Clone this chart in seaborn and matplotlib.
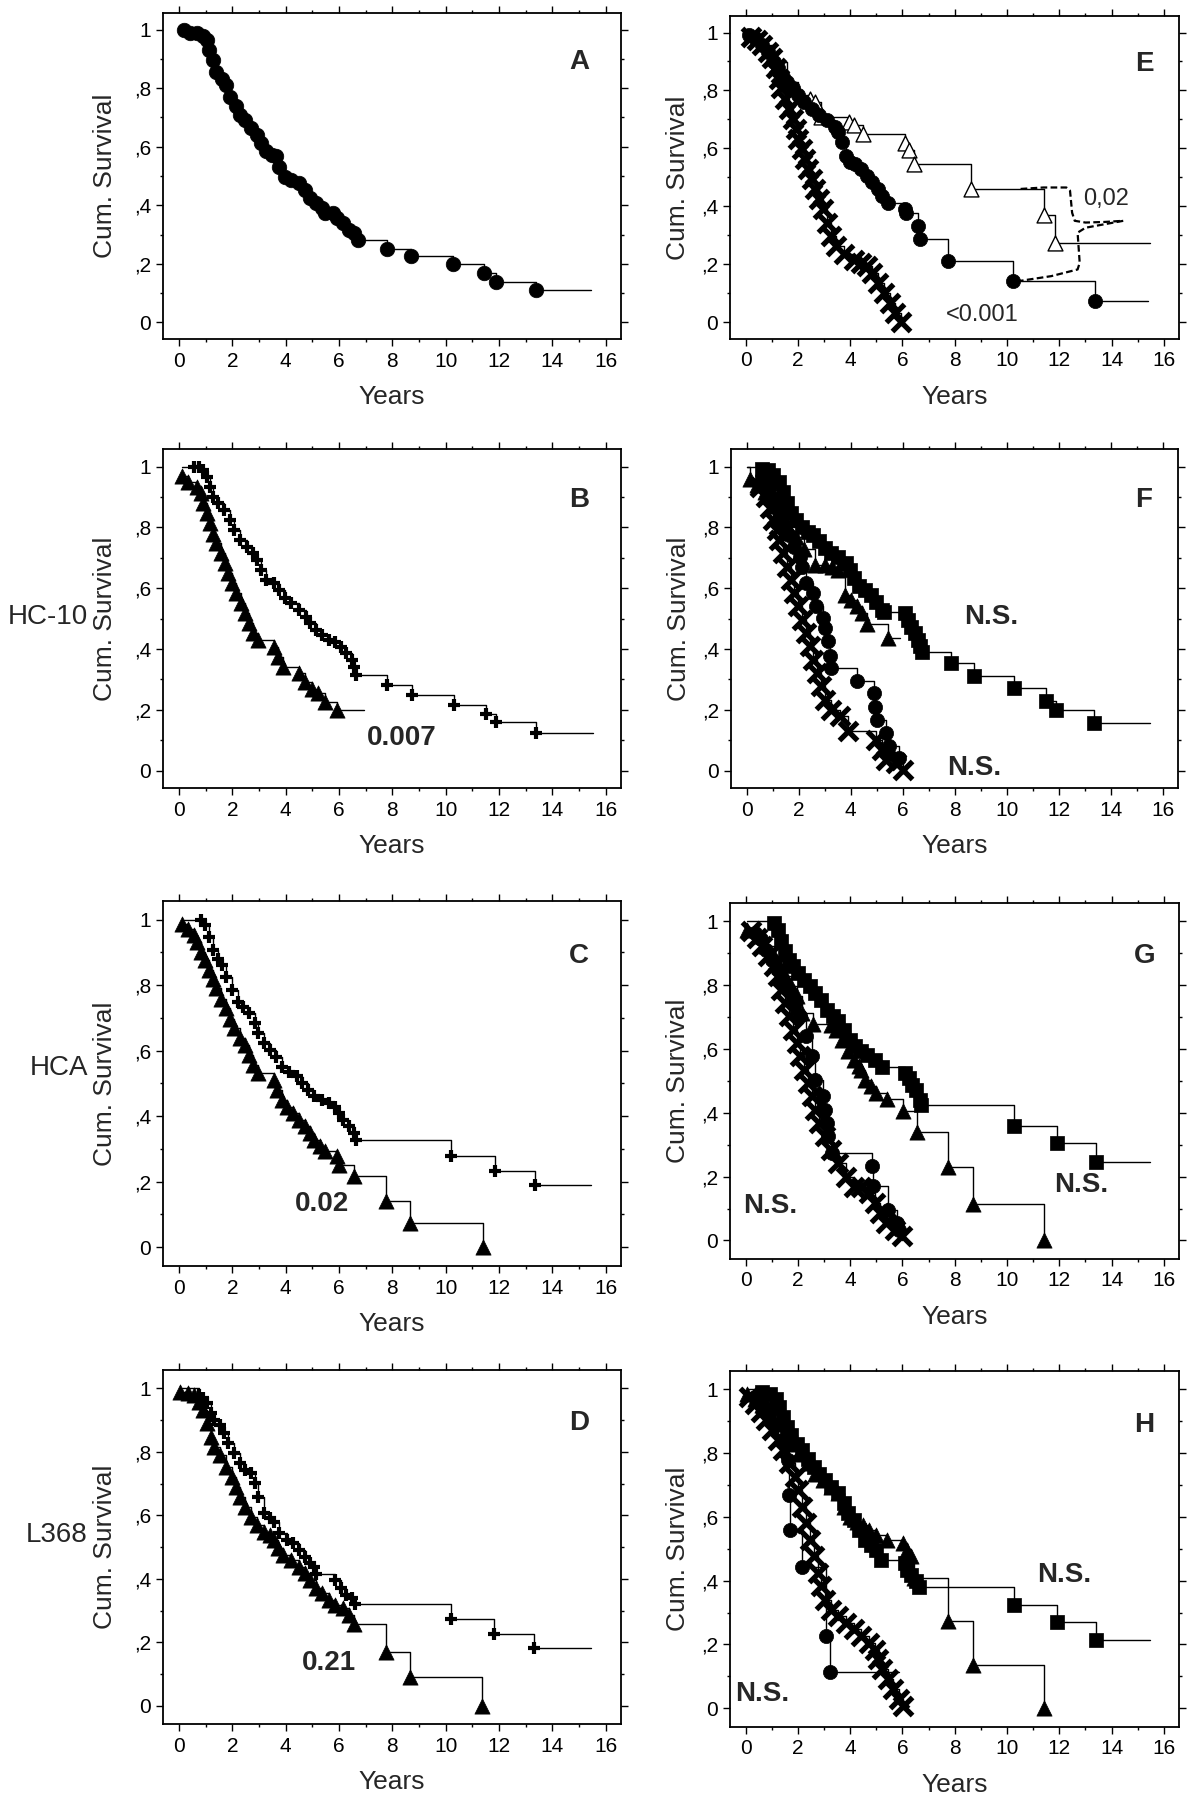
import numpy as np
import pandas as pd
import matplotlib
matplotlib.use('Agg')
import matplotlib.pyplot as plt
from matplotlib.transforms import offset_copy
import seaborn as sns

# ---------------------------------------------------------------------------
# Curve data (time in years, cumulative survival)
# ---------------------------------------------------------------------------

# A : all patients
a_circ_t = [0.19, 0.4, 0.69, 0.9, 1.05, 1.12, 1.26, 1.4, 1.62, 1.76, 1.9, 2.12,
            2.27, 2.48, 2.7, 2.91, 3.06, 3.27, 3.49, 3.63, 3.77, 3.99, 4.2, 4.49,
            4.71, 4.92, 5.14, 5.35, 5.49, 5.78, 5.92, 6.14, 6.36, 6.57, 6.71,
            7.82, 8.69, 10.27, 11.45, 11.9, 13.39]
a_circ_s = [1.0, .99, .99, .977, .966, .93, .897, .857, .83, .81, .77, .738,
            .71, .69, .664, .64, .612, .584, .572, .567, .532, .498, .487, .476,
            .453, .424, .407, .39, .373, .373, .356, .339, .316, .304, .28,
            .25, .227, .198, .17, .139, .111]

# B : HC-10
b_plus_t = [0.55, 0.76, 0.9, 1.05, 1.16, 1.26, 1.48, 1.69, 1.91, 2.05, 2.27,
            2.55, 2.77, 2.91, 3.06, 3.27, 3.56, 3.77, 3.99, 4.2, 4.49, 4.78,
            4.92, 5.14, 5.35, 5.64, 5.85, 6.07, 6.28, 6.5, 6.57, 6.64, 7.8,
            8.75, 10.3, 11.5, 11.9, 13.4]
b_plus_s = [1.0, 1.0, .99, .967, .934, .9, .879, .857, .825, .79, .759, .737,
            .715, .693, .66, .627, .616, .594, .567, .55, .528, .507, .485,
            .463, .446, .43, .424, .408, .386, .364, .342, .315, .282, .249,
            .216, .186, .159, .123]
b_tri_t = [0.11, 0.33, 0.69, 0.83, 0.9, 1.05, 1.16, 1.26, 1.4, 1.59, 1.73,
           1.84, 1.98, 2.12, 2.31, 2.48, 2.63, 2.77, 2.98, 3.56, 3.7, 3.92,
           4.49, 4.71, 4.99, 5.21, 5.47, 5.93]
b_tri_s = [.97, .95, .934, .912, .88, .846, .814, .78, .748, .715, .682, .649,
           .616, .583, .55, .518, .485, .452, .43, .408, .375, .342, .32, .293,
           .27, .254, .227, .2]

# C : HCA
c_plus_t = [0.83, 0.98, 1.12, 1.26, 1.48, 1.62, 1.76, 1.98, 2.2, 2.41, 2.63,
            2.84, 2.98, 3.2, 3.41, 3.63, 3.85, 4.13, 4.42, 4.63, 4.85, 5.06,
            5.35, 5.64, 5.85, 6.0, 6.14, 6.36, 6.57, 6.64, 10.2, 11.85, 13.35]
c_plus_s = [1.0, .983, .947, .907, .881, .861, .825, .785, .749, .734, .714,
            .683, .653, .622, .602, .582, .551, .536, .521, .5, .48, .46, .45,
            .44, .429, .409, .389, .369, .348, .328, .279, .231, .188]
c_tri_t = [0.11, 0.33, 0.55, 0.69, 0.83, 0.98, 1.12, 1.26, 1.4, 1.59, 1.76,
           1.91, 2.08, 2.27, 2.48, 2.63, 2.77, 2.98, 3.56, 3.66, 3.85, 4.06,
           4.28, 4.49, 4.71, 4.92, 5.06, 5.28, 5.47, 5.93, 6.0, 6.57, 7.76,
           8.65, 11.4]
c_tri_s = [.988, .973, .952, .932, .902, .876, .846, .82, .79, .759, .729,
           .698, .668, .638, .617, .587, .556, .531, .511, .48, .45, .429, .409,
           .389, .369, .348, .328, .308, .292, .277, .252, .216, .14, .072, 0.0]

# D : L368
d_plus_t = [0.76, 0.9, 1.05, 1.19, 1.33, 1.55, 1.69, 1.84, 2.05, 2.27, 2.48,
            2.7, 2.84, 2.98, 3.2, 3.41, 3.56, 3.77, 4.06, 4.28, 4.49, 4.71,
            4.92, 5.06, 5.14, 5.85, 6.07, 6.28, 6.5, 6.6, 10.2, 11.8, 13.3]
d_plus_s = [.979, .969, .953, .921, .9, .885, .858, .827, .795, .764, .743,
            .732, .701, .659, .607, .591, .58, .544, .523, .512, .491, .47,
            .449, .439, .415, .397, .37, .349, .339, .32, .273, .227, .181]
d_tri_t = [0.04, 0.33, 0.55, 0.76, 0.9, 1.05, 1.19, 1.33, 1.55, 1.76, 1.98,
           2.12, 2.27, 2.48, 2.7, 2.91, 3.2, 3.41, 3.56, 3.7, 3.92, 4.2, 4.49,
           4.71, 4.92, 5.14, 5.35, 5.64, 5.85, 6.14, 6.36, 6.57, 7.76, 8.65,
           11.37]
d_tri_s = [.99, .984, .979, .958, .932, .89, .848, .816, .79, .753, .722, .69,
           .659, .627, .596, .57, .549, .538, .523, .496, .475, .46, .439, .418,
           .397, .37, .355, .334, .318, .307, .286, .258, .17, .09, 0.0]

# E : HLA class I groups
e_circ_t = [.13, .35, .64, .86, 1.08, 1.22, 1.44, 1.58, 1.8, 2.02, 2.24, 2.53,
            2.82, 3.11, 3.4, 3.55, 3.7, 3.84, 3.98, 4.2, 4.42, 4.64, 4.85,
            5.07, 5.22, 5.44, 6.09, 6.12, 6.6, 6.67, 7.76, 10.23, 13.36]
e_circ_s = [.992, .98, .957, .934, .899, .876, .847, .83, .807, .784, .76,
            .737, .714, .697, .674, .656, .622, .575, .552, .546, .529, .506,
            .483, .459, .436, .413, .39, .378, .332, .286, .211, .141, .072]
e_open_t = [.13, .64, 1.08, 1.58, 2.02, 2.46, 2.67, 2.9, 3.95, 4.13, 4.49,
            6.09, 6.24, 6.45, 8.63, 11.4, 11.83]
e_open_s = [.99, .957, .899, .83, .784, .772, .76, .708, .691, .68, .65,
            .62, .593, .545, .46, .37, .275]
e_x_t = [.2, .42, .64, .86, 1.0, 1.15, 1.29, 1.37, 1.51, 1.66, 1.8, 1.92, 2.02,
         2.17, 2.27, 2.38, 2.53, 2.67, 2.82, 2.97, 3.11, 3.26, 3.47, 3.76,
         4.13, 4.42, 4.64, 4.85, 5.07, 5.29, 5.51, 5.73, 5.94]
e_x_s = [.986, .975, .957, .934, .911, .876, .841, .807, .772, .737, .703,
         .668, .633, .598, .564, .529, .494, .459, .425, .39, .344, .297, .263,
         .234, .216, .205, .193, .17, .135, .1, .066, .031, 0.0]
# dashed brace joining the two compared curves
e_brace_up_t = [10.52, 11.39, 12.27, 12.41, 12.49, 12.59, 13.0, 13.72, 14.45]
e_brace_up_s = [.46, .465, .465, .454, .378, .35, .344, .346, .35]
e_brace_lo_t = [10.38, 11.69, 12.7, 12.78, 12.7, 13.0, 13.72, 14.45]
e_brace_lo_s = [.141, .159, .182, .205, .309, .326, .338, .35]

# F : HC-10 subgroups
f_sq_t = [.59, .81, 1.03, 1.25, 1.4, 1.54, 1.69, 1.91, 2.13, 2.35, 2.57, 2.79,
          3.01, 3.23, 3.52, 3.82, 3.96, 4.11, 4.33, 4.55, 4.77, 4.99, 5.21,
          5.29, 6.09, 6.2, 6.31, 6.46, 6.58, 6.68, 6.73, 7.86, 8.74, 10.28,
          11.5, 11.89, 13.36]
f_sq_s = [.993, .989, .973, .951, .918, .88, .847, .825, .803, .786, .775,
          .754, .732, .715, .704, .682, .66, .633, .606, .595, .578, .556,
          .529, .523, .518, .496, .474, .452, .43, .409, .39, .355, .31, .272,
          .228, .2, .158]
f_tri_t = [.12, .4, .7, 1.0, 1.3, 1.6, 1.9, 2.2, 2.61, 3.0, 3.3, 3.52, 3.79,
           4.0, 4.26, 4.45, 4.63, 5.43]
f_tri_s = [.96, .94, .915, .87, .83, .8, .77, .73, .677, .675, .67, .66, .578,
           .56, .54, .52, .483, .436]
f_circ_t = [.59, .81, 1.03, 1.17, 1.32, 1.47, 1.62, 1.84, 2.06, 2.13, 2.28,
            2.57, 2.67, 2.94, 3.01, 3.11, 3.2, 3.26, 4.26, 4.88, 4.93, 5.0,
            5.36, 5.46, 5.84]
f_circ_s = [.967, .934, .896, .869, .836, .803, .775, .737, .704, .671, .617,
            .584, .54, .502, .469, .425, .376, .337, .294, .255, .211, .168,
            .124, .08, .042]
f_x_t = [.51, .73, .88, 1.03, 1.15, 1.25, 1.4, 1.54, 1.69, 1.84, 1.98, 2.13,
         2.28, 2.42, 2.57, 2.72, 2.86, 3.01, 3.23, 3.6, 3.89, 4.99, 5.21, 5.36,
         5.73, 6.02]
f_x_s = [.934, .901, .863, .825, .792, .759, .715, .671, .628, .584, .54,
         .496, .452, .409, .365, .321, .277, .233, .2, .179, .13, .102, .069,
         .036, .025, .003]

# G : HCA subgroups
g_sq_t = [1.08, 1.22, 1.37, 1.51, 1.66, 1.8, 2.02, 2.24, 2.46, 2.67, 2.89,
          3.11, 3.33, 3.55, 3.76, 3.98, 4.2, 4.42, 4.64, 4.93, 5.22, 6.09,
          6.24, 6.38, 6.53, 6.67, 6.72, 10.28, 11.9, 13.4]
g_sq_s = [.995, .974, .937, .906, .88, .859, .838, .817, .796, .775, .754,
          .723, .702, .687, .66, .629, .608, .592, .582, .566, .543, .525,
          .509, .488, .472, .441, .425, .36, .305, .245]
g_tri_t = [.06, .49, .78, 1.08, 1.29, 1.51, 1.73, 1.95, 2.17, 2.56, 3.26,
           3.47, 3.69, 3.91, 4.13, 4.35, 4.42, 4.56, 4.78, 5.0, 5.41, 6.02,
           6.57, 7.76, 8.68, 11.4]
g_tri_s = [.974, .953, .922, .89, .859, .828, .796, .765, .713, .679, .675,
           .66, .629, .592, .566, .545, .535, .504, .483, .462, .443, .405,
           .34, .23, .115, 0.0]
g_circ_t = [.35, .57, .78, 1.0, 1.22, 1.44, 1.66, 1.88, 2.09, 2.31, 2.53,
            2.67, 2.97, 3.04, 3.11, 3.14, 3.3, 4.85, 4.88, 5.44, 5.8, 5.87]
g_circ_s = [.963, .943, .911, .88, .848, .817, .786, .744, .702, .64, .577,
            .504, .451, .41, .368, .326, .274, .232, .17, .096, .054, .033]
g_x_t = [.2, .42, .64, .86, 1.08, 1.22, 1.37, 1.51, 1.66, 1.8, 1.95, 2.09,
         2.24, 2.38, 2.53, 2.67, 2.82, 3.04, 3.26, 3.55, 3.84, 4.13, 4.42,
         4.71, 4.93, 5.15, 5.36, 5.73, 5.99]
g_x_s = [.969, .948, .922, .89, .859, .828, .786, .744, .702, .66, .619,
         .577, .535, .493, .451, .41, .368, .326, .284, .242, .2, .169, .169,
         .148, .117, .086, .054, .033, .013]

# H : L368 subgroups
h_sq_t = [.64, .93, 1.15, 1.29, 1.44, 1.58, 1.73, 1.95, 2.17, 2.38, 2.6,
          2.82, 3.04, 3.26, 3.55, 3.76, 3.91, 4.13, 4.35, 4.56, 4.78, 5.0,
          5.17, 6.09, 6.16, 6.31, 6.53, 6.63, 10.28, 11.9, 13.4]
h_sq_s = [.992, .986, .971, .945, .914, .882, .856, .83, .809, .783, .757,
          .736, .716, .695, .674, .643, .611, .591, .559, .528, .513, .497,
          .466, .455, .434, .419, .398, .38, .325, .27, .215]
h_tri_t = [.06, .35, .64, .93, 1.22, 1.51, 1.8, 2.09, 2.38, 2.67, 2.97, 3.26,
           3.55, 3.76, 3.98, 4.27, 4.49, 4.71, 5.0, 5.41, 6.02, 6.16, 6.31,
           6.45, 7.76, 8.68, 11.4]
h_tri_s = [.986, .971, .95, .924, .893, .861, .83, .799, .768, .736, .716,
           .695, .674, .632, .601, .585, .575, .559, .544, .528, .518, .497,
           .476, .41, .275, .135, 0.0]
h_circ_t = [.35, .64, .93, 1.22, 1.44, 1.63, 1.66, 1.7, 2.14, 3.08, 3.21]
h_circ_s = [.976, .955, .929, .893, .841, .778, .669, .559, .442, .226, .114]
h_x_t = [.13, .35, .57, .78, 1.0, 1.22, 1.44, 1.66, 1.88, 2.02, 2.17, 2.31,
         2.46, 2.6, 2.75, 2.89, 3.04, 3.26, 3.55, 3.84, 4.13, 4.42, 4.71,
         4.93, 5.07, 5.22, 5.44, 5.65, 5.87, 6.02]
h_x_s = [.976, .955, .929, .903, .872, .841, .809, .768, .726, .684, .632,
         .58, .528, .476, .424, .382, .341, .309, .289, .268, .247, .226,
         .205, .184, .153, .122, .091, .059, .028, .007]

y_tick_labels = ['0', ',2', ',4', ',6', ',8', '1']
row_labels = ['HC-10', 'HCA', 'L368']


# ---------------------------------------------------------------------------
def km_curve(ax, t, s, marker, start=None, end=None, skip=0, size=90,
             lw_mark=0.5, face='black'):
    '''
    Step line of a Kaplan-Meier curve plus its markers
    '''
    xs = list(t)
    ys = list(s)
    if start is not None:
        xs = [start] + xs
        ys = [1.0] + ys
    if end is not None:
        xs = xs + [end]
        ys = ys + [ys[-1]]
    sns.lineplot(x=xs, y=ys, ax=ax, color='black', lw=1.0,
                 drawstyle='steps-post', sort=False, estimator=None)
    mt = list(t)[skip:]
    ms = list(s)[skip:]
    if marker in ('x', '+'):
        sns.scatterplot(x=mt, y=ms, ax=ax, marker=marker, s=size,
                        color='black', linewidth=lw_mark, zorder=3)
    else:
        sns.scatterplot(x=mt, y=ms, ax=ax, marker=marker, s=size,
                        color=face, edgecolor='black', linewidth=lw_mark,
                        zorder=3)


def style_axes(fig, ax, letter, letter_x, ylab_off):
    '''
    SPSS look: boxed axes, ticks outside on all four sides
    '''
    ax.set_xlim(-0.6, 16.58)
    ax.set_ylim(-0.058, 1.058)
    ax.set_xticks(range(0, 17, 2))
    ax.set_xticks(range(1, 17, 2), minor=True)
    ax.set_yticks([0, .2, .4, .6, .8, 1])
    ax.set_yticklabels(y_tick_labels)
    ax.set_yticks([.1, .3, .5, .7, .9], minor=True)
    ax.tick_params(which='both', direction='out', top=True, right=True,
                   labeltop=False, labelright=False, width=1.0,
                   colors='black')
    ax.tick_params(which='major', length=5, labelsize=15)
    ax.tick_params(which='minor', length=2.5)
    ax.tick_params(axis='x', which='major', pad=4)
    ax.tick_params(axis='y', which='major', pad=3.5)
    for sp in ax.spines.values():
        sp.set_linewidth(1.3)
        sp.set_color('black')
        sp.set_visible(True)
    ax.set_xlabel('Years', fontsize=19)
    ax.set_ylabel('Cum. Survival', fontsize=19)
    ax.xaxis.set_label_coords(0.5, 0, transform=offset_copy(
        ax.transAxes, fig=fig, y=-46, units='dots'))
    ax.yaxis.set_label_coords(0, 0.5, transform=offset_copy(
        ax.transAxes, fig=fig, x=ylab_off, units='dots'))
    ax.text(letter_x, 0.89, letter, fontsize=20, fontweight='bold',
            ha='center', va='center')


sns.set_style('ticks')
plt.rcParams['font.family'] = ['Liberation Sans', 'DejaVu Sans']

W, H = 1192, 1800
fig = plt.figure(figsize=(W / 100, H / 100), dpi=100)

# axes boxes in pixels: left, right, top, bottom
boxes = {'A': (163, 621, 12.7, 339.3), 'E': (730, 1179, 15.7, 339),
         'B': (163, 621, 449, 788.3), 'F': (731, 1178, 449, 788.3),
         'C': (163, 621, 900.7, 1266), 'G': (730, 1179, 902.7, 1259),
         'D': (163, 621, 1370, 1724.3), 'H': (730, 1179, 1371, 1726.7)}
axs = {}
for k, (l, r, t, b) in boxes.items():
    axs[k] = fig.add_axes([l / W, 1 - b / H, (r - l) / W, (b - t) / H])

# ----- A
ax = axs['A']
km_curve(ax, a_circ_t, a_circ_s, 'o', end=15.47, size=110)

# ----- B / C / D : two groups each
ax = axs['B']
km_curve(ax, b_plus_t, b_plus_s, '+', start=0.1, end=15.54, size=75,
         lw_mark=3.0)
km_curve(ax, b_tri_t, b_tri_s, '^', end=6.93, size=120)
ax.text(8.36, .106, '0.007', fontsize=20, fontweight='bold',
        ha='center', va='center')

ax = axs['C']
km_curve(ax, c_plus_t, c_plus_s, '+', start=0.1, end=15.47, size=75,
         lw_mark=3.0)
km_curve(ax, c_tri_t, c_tri_s, '^', size=120)
ax.text(5.35, .13, '0.02', fontsize=20, fontweight='bold',
        ha='center', va='center')

ax = axs['D']
km_curve(ax, d_plus_t, d_plus_s, '+', start=0.05, end=15.47, size=75,
         lw_mark=3.0)
km_curve(ax, d_tri_t, d_tri_s, '^', size=120)
ax.text(5.64, .134, '0.21', fontsize=20, fontweight='bold',
        ha='center', va='center')

# ----- E
ax = axs['E']
km_curve(ax, e_open_t, e_open_s, '^', end=15.47, skip=5, size=115,
         lw_mark=1.0, face='white')
km_curve(ax, e_circ_t, e_circ_s, 'o', end=15.39, size=105)
km_curve(ax, e_x_t, e_x_s, 'x', size=170, lw_mark=3.8)
sns.lineplot(x=e_brace_up_t, y=e_brace_up_s, ax=ax, color='black', lw=1.6,
             linestyle=(0, (3, 1.5)), sort=False, estimator=None)
sns.lineplot(x=e_brace_lo_t, y=e_brace_lo_s, ax=ax, color='black', lw=1.6,
             linestyle=(0, (3, 1.5)), sort=False, estimator=None)
ax.text(13.79, .425, '0,02', fontsize=17, ha='center', va='center')
ax.text(9.07, .025, '<0.001', fontsize=17, ha='center', va='center')

# ----- F
ax = axs['F']
km_curve(ax, f_sq_t, f_sq_s, 's', start=0.0, end=15.49, size=110)
km_curve(ax, f_tri_t, f_tri_s, '^', start=0.0, end=5.9, size=120)
km_curve(ax, f_circ_t, f_circ_s, 'o', size=105)
km_curve(ax, f_x_t, f_x_s, 'x', size=170, lw_mark=3.8)
ax.text(9.4, .507, 'N.S.', fontsize=20, fontweight='bold',
        ha='center', va='center')
ax.text(8.74, .009, 'N.S.', fontsize=20, fontweight='bold',
        ha='center', va='center')

# ----- G
ax = axs['G']
km_curve(ax, g_sq_t, g_sq_s, 's', start=0.05, end=15.47, size=110)
km_curve(ax, g_tri_t, g_tri_s, '^', size=120)
km_curve(ax, g_circ_t, g_circ_s, 'o', size=105)
km_curve(ax, g_x_t, g_x_s, 'x', size=170, lw_mark=3.8)
ax.text(.93, .107, 'N.S.', fontsize=20, fontweight='bold',
        ha='center', va='center')
ax.text(12.85, .175, 'N.S.', fontsize=20, fontweight='bold',
        ha='center', va='center')

# ----- H
ax = axs['H']
km_curve(ax, h_sq_t, h_sq_s, 's', start=0.05, end=15.47, size=110)
km_curve(ax, h_tri_t, h_tri_s, '^', size=120)
km_curve(ax, h_circ_t, h_circ_s, 'o', end=5.87, size=105)
km_curve(ax, h_x_t, h_x_s, 'x', size=170, lw_mark=3.8)
ax.text(12.19, .419, 'N.S.', fontsize=20, fontweight='bold',
        ha='center', va='center')
ax.text(.64, .044, 'N.S.', fontsize=20, fontweight='bold',
        ha='center', va='center')

for k in 'ABCD':
    style_axes(fig, axs[k], k, 15.0, -46)
for k in 'EFGH':
    style_axes(fig, axs[k], k, 15.25, -40)

# marker names of the rows
for lab, yc in zip(row_labels, [616.7, 1068, 1535]):
    fig.text(88 / W, 1 - yc / H, lab, fontsize=20, ha='right', va='center')

fig.savefig('out.png', dpi=100, facecolor='white')
